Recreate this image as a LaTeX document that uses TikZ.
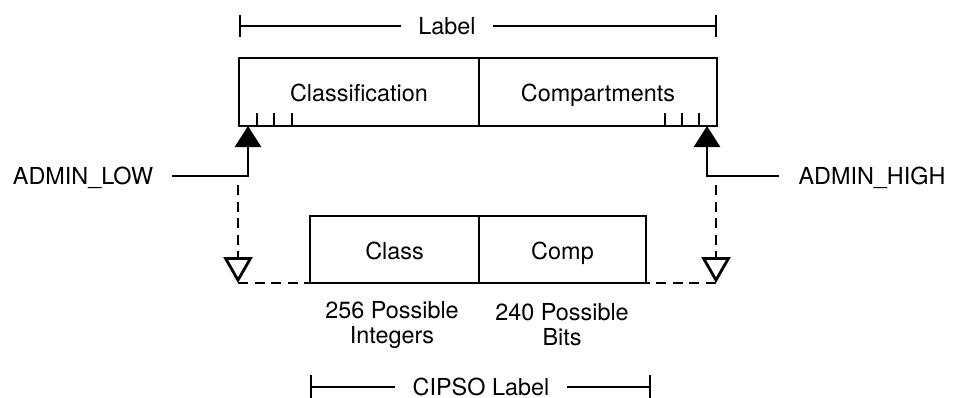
\documentclass[tikz,border=0pt]{standalone}
\usepackage{fontspec}
\setmainfont{TeX Gyre Heros}
\usetikzlibrary{arrows.meta,positioning}

\tikzset{
  cell/.style={draw, line width=1.4pt, outer sep=0pt, inner sep=0pt, minimum height=34pt,
    text height=0.95em, text depth=0pt},
  dimlabel/.style={inner sep=8.5pt},
  sidelabel/.style={inner sep=9.5pt, text depth=0pt},
  note/.style={align=center},
  bar/.style={line width=1.2pt},
  tick/.style={line width=0.75pt},
  solidarr/.style={line width=1.4pt, -{Triangle[width=13pt,length=10.5pt]}},
  dashline/.style={line width=1.4pt, dash pattern=on 5pt off 3.3pt},
  dasharr/.style={dashline, -{Triangle[open,width=14.5pt,length=13pt]}},
}

\begin{document}
\begin{tikzpicture}[x=0.5pt, y=-0.5pt, font=\fontsize{11.7pt}{12.5pt}\selectfont]
		\useasboundingbox (0,0) rectangle (957,397);
		% label fields
		\node[cell, minimum width=120pt] (classif) at (359, 92) {Classification};
		\node[cell, minimum width=119pt, right=0pt of classif] (compart) {Compartments};
		\node[cell, minimum width=84.5pt, minimum height=33.5pt] (class) at (394.5, 249.5) {Class};
		\node[cell, minimum width=83.5pt, minimum height=33.5pt, right=0pt of class] (comp) {Comp};
		\foreach \tx in {257, 274, 292, 665, 682, 699}
			\draw[tick] (\tx, 113) -- (\tx, 126);
		\node[note] (classnote) at (392, 325) {256 Possible\\Integers};
		\node[note] (compnote) at (562, 325) {240 Possible\\Bits};
		% dimension bars
		\node[dimlabel] (lbl) at (447, 26) {Label};
		\coordinate (lblL) at (239, 26);
		\coordinate (lblR) at (717, 26);
		\draw[bar, {Bar[width=11pt]}-] (lblL) -- (lbl);
		\draw[bar, {Bar[width=11pt]}-] (lblR) -- (lbl);
		\node[dimlabel] (cipso) at (481, 387) {CIPSO Label};
		\coordinate (cipL) at (310, 387);
		\coordinate (cipR) at (651, 387);
		\draw[bar, {Bar[width=12pt]}-] (cipL) -- (cipso);
		\draw[bar, {Bar[width=12pt]}-] (cipR) -- (cipso);
		% admin bounds
		\node[sidelabel] (low) at (83, 176) {ADMIN\_LOW};
		\node[sidelabel] (high) at (872, 176) {ADMIN\_HIGH};
		\coordinate (lowtip) at ([xshift=4.5pt]classif.south west);
		\coordinate (hightip) at ([xshift=-5pt]compart.south east);
		\draw[solidarr] (low.east) -| (lowtip);
		\draw[solidarr] (high.west) -| (hightip);
		\coordinate (lowtop) at (238, 185);
		\coordinate (lowbot) at (238, 283);
		\coordinate (hightop) at (716, 185);
		\coordinate (highbot) at (716, 283);
		\draw[dasharr] (lowtop) -- (lowbot);
		\draw[dasharr] (hightop) -- (highbot);
		\draw[dashline] (lowbot) -- (class.south west);
		\draw[dashline] (highbot) -- (comp.south east);
\end{tikzpicture}
\end{document}
